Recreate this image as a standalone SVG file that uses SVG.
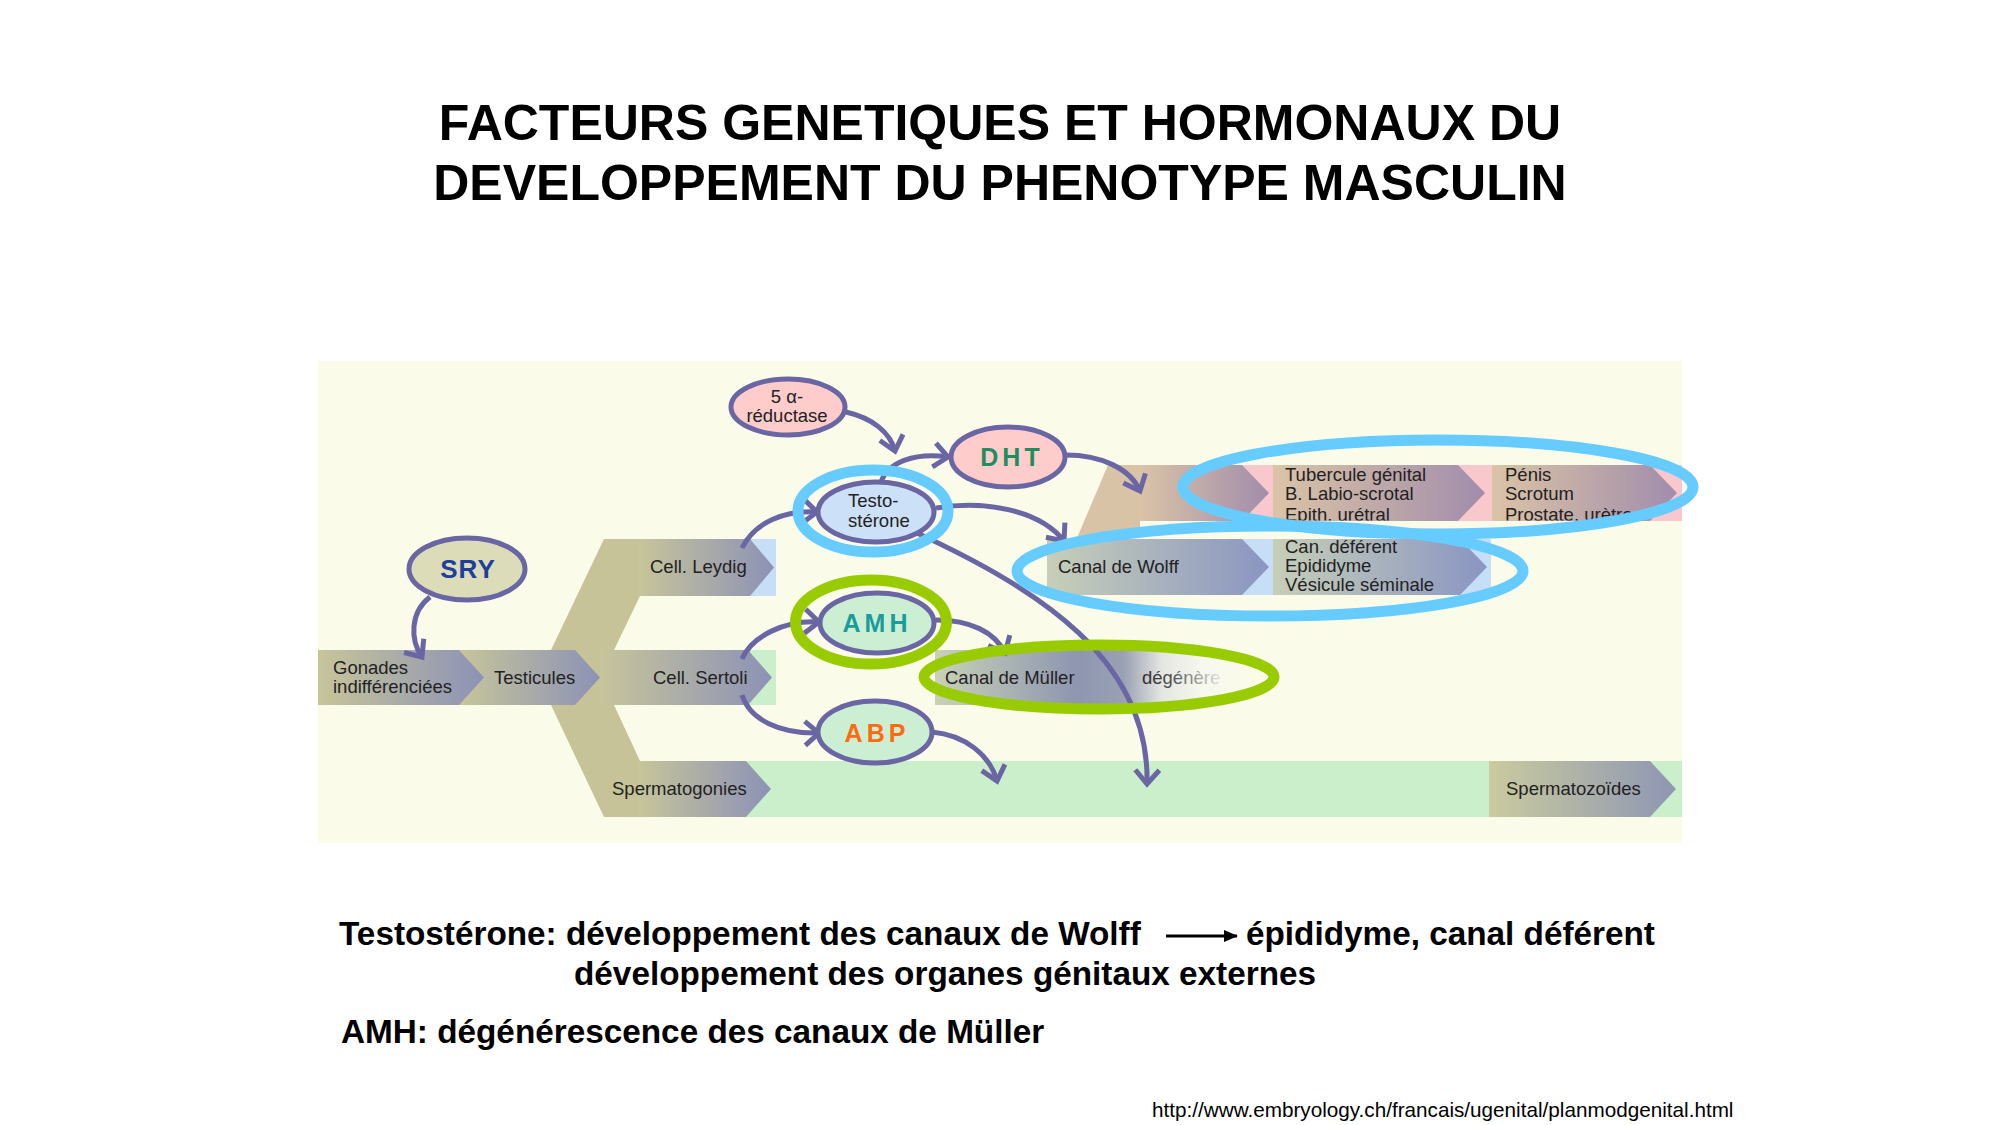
<svg xmlns="http://www.w3.org/2000/svg" width="2000" height="1125" viewBox="0 0 2000 1125">
<style>
text{font-family:"Liberation Sans",Arial,sans-serif;}
.lbl{font-size:18.5px;fill:#222;}
.ell{stroke:#6A66A4;stroke-width:5;}
.con{fill:none;stroke:#6A66A4;stroke-width:5;marker-end:url(#ah);}
.ring{fill:none;stroke-width:11;}
.blue{stroke:#66CCFF;}
.green{stroke:#99CC00;}
.hb{font-weight:bold;font-size:25px;letter-spacing:4px;text-anchor:middle;}
.title{font-size:50px;font-weight:bold;text-anchor:middle;fill:#000;}
.body{font-size:33.3px;font-weight:bold;fill:#000;}
.olive{fill:url(#gOlive);}
</style>
<defs>
<linearGradient id="gOlive" x1="0" y1="0" x2="1" y2="0"><stop offset="0" stop-color="#C7C59A"/><stop offset="1" stop-color="#8C92B6"/></linearGradient>
<linearGradient id="gTan" x1="0" y1="0" x2="1" y2="0"><stop offset="0" stop-color="#DBC4A6"/><stop offset="1" stop-color="#A18DAC"/></linearGradient>
<linearGradient id="gWolff" x1="0" y1="0" x2="1" y2="0"><stop offset="0" stop-color="#C7CFB8"/><stop offset="1" stop-color="#8A95C2"/></linearGradient>
<linearGradient id="gSpz" x1="0" y1="0" x2="1" y2="0"><stop offset="0" stop-color="#CACB9E"/><stop offset="1" stop-color="#8E96B3"/></linearGradient>
<linearGradient id="gMul" gradientUnits="userSpaceOnUse" x1="935" y1="0" x2="1250" y2="0"><stop offset="0" stop-color="#C8D2B6"/><stop offset="0.45" stop-color="#8E96B0"/><stop offset="0.6" stop-color="#9AA1B3"/><stop offset="0.72" stop-color="#E4E6E2"/><stop offset="0.85" stop-color="#F7F8EE"/><stop offset="1" stop-color="#FBFBEA"/></linearGradient>
<linearGradient id="gDeg" x1="0" y1="0" x2="1" y2="0"><stop offset="0" stop-color="#2A2A2A"/><stop offset="0.4" stop-color="#555"/><stop offset="1" stop-color="#E2E2E2"/></linearGradient>
<marker id="ah" viewBox="0 0 24 30" refX="18" refY="15" markerWidth="24" markerHeight="30" markerUnits="userSpaceOnUse" orient="auto"><path d="M4,3 L18,15 L4,27" fill="none" stroke="#6A66A4" stroke-width="5"/></marker>
<marker id="bk" viewBox="0 0 14 12" refX="13" refY="6" markerWidth="14" markerHeight="12" markerUnits="userSpaceOnUse" orient="auto"><path d="M0,0 L14,6 L0,12 Z" fill="#000"/></marker>
<clipPath id="extclip"><rect x="1100" y="465" width="590" height="55.5"/></clipPath>
</defs>

<rect width="2000" height="1125" fill="#FFFFFF"/>

<g id="title">
<text class="title" x="1000" y="140">FACTEURS GENETIQUES ET HORMONAUX DU</text>
<text class="title" x="1000" y="200">DEVELOPPEMENT DU PHENOTYPE MASCULIN</text>
</g>

<rect id="panel" x="318" y="361" width="1364" height="482" fill="#FBFBEA"/>

<g id="row-backgrounds">
<rect x="640" y="539" width="136" height="57" fill="#C6DEF6"/>
<rect x="640" y="650" width="136" height="55" fill="#CBEFCB"/>
<rect x="640" y="761" width="1042" height="56" fill="#CBEFCB"/>
<rect x="1047" y="539" width="444" height="56" fill="#C6DEF6"/>
<rect x="1108" y="465" width="574" height="56" fill="#F9C8CC"/>
</g>

<g id="fork"><polygon fill="#C6C398" points="551,650 604,539 640,539 640,596 614,650 614,705 640,761 640,817 604,817 551,705"/></g>
<g id="node-sertoli"><polygon class="olive" points="600,650 748,650 772,677.5 748,705 600,705"/><text class="lbl" x="653" y="684">Cell. Sertoli</text></g>
<g id="node-testicules"><polygon class="olive" points="459,650 575,650 600,677.5 575,705 459,705"/><text class="lbl" x="494" y="684">Testicules</text></g>
<g id="node-gonades"><polygon class="olive" points="318,650 459,650 484,677.5 459,705 318,705"/><text class="lbl" x="333" y="674">Gonades</text><text class="lbl" x="333" y="693">indifférenciées</text></g>
<g id="node-leydig"><polygon class="olive" points="638,539 750,539 774,567.5 750,596 638,596"/><text class="lbl" x="650" y="573">Cell. Leydig</text></g>
<g id="node-spermatogonies"><polygon class="olive" points="638,761 746,761 771,789 746,817 638,817"/><text class="lbl" x="612" y="795">Spermatogonies</text></g>
<g id="node-spermatozoides"><polygon fill="url(#gSpz)" points="1489,761 1650,761 1676,789 1650,817 1489,817"/><text class="lbl" x="1506" y="795">Spermatozoïdes</text></g>

<g id="node-muller"><rect x="935" y="650" width="315" height="55" fill="url(#gMul)"/><text class="lbl" x="945" y="684">Canal de Müller</text><text class="lbl" x="1142" y="684" style="fill:url(#gDeg)">dégénère</text></g>

<g id="node-wolff"><polygon fill="url(#gWolff)" points="1047,539 1242,539 1269,567 1242,595 1047,595"/><text class="lbl" x="1058" y="573">Canal de Wolff</text></g>
<g id="node-wolff-derives"><polygon fill="url(#gWolff)" points="1273,539 1460,539 1487,567 1460,595 1273,595"/><text class="lbl" x="1285" y="553">Can. déférent</text><text class="lbl" x="1285" y="572">Epididyme</text><text class="lbl" x="1285" y="591">Vésicule séminale</text></g>

<g id="fork-ext"><polygon fill="#D8C3A6" points="1077,538 1108,465 1140,465 1140,538"/></g>
<g id="node-ext1"><polygon fill="url(#gTan)" points="1138,465 1242,465 1269,493 1242,521 1138,521"/></g>
<g id="node-ext2"><polygon fill="url(#gTan)" points="1273,465 1458,465 1485,493 1458,521 1273,521"/><g clip-path="url(#extclip)"><text class="lbl" x="1285" y="481">Tubercule génital</text><text class="lbl" x="1285" y="500">B. Labio-scrotal</text><text class="lbl" x="1285" y="521">Epith. urétral</text></g></g>
<g id="node-ext3"><polygon fill="url(#gTan)" points="1492,465 1650,465 1677,493 1650,521 1492,521"/><g clip-path="url(#extclip)"><text class="lbl" x="1505" y="481">Pénis</text><text class="lbl" x="1505" y="500">Scrotum</text><text class="lbl" x="1505" y="521">Prostate, urètre</text></g></g>

<g id="connectors">
<path class="con" d="M430,597 C410,612 410,640 422,657"/>
<path class="con" d="M846,412 C872,418 890,432 895,451"/>
<path class="con" d="M881,482 C888,462 915,452 948,457"/>
<path class="con" d="M1066,455 C1100,455 1130,468 1140,491"/>
<path class="con" d="M936,508 C985,500 1040,510 1064,541"/>
<path class="con" d="M917,533 C1040,590 1150,660 1147,784"/>
<path class="con" d="M742,548 C755,522 785,510 817,512"/>
<path class="con" d="M742,659 C752,636 785,620 819,622"/>
<path class="con" d="M742,695 C750,720 780,734 819,733"/>
<path class="con" d="M936,620 C970,620 995,632 1005,653"/>
<path class="con" d="M932,732 C965,735 990,755 997,781"/>
</g>

<g id="node-sry"><ellipse class="ell" cx="467" cy="569" rx="58" ry="31" fill="#DCDCB8"/><text x="468" y="578" text-anchor="middle" font-size="26" font-weight="bold" fill="#1F3F9F" letter-spacing="1">SRY</text></g>
<g id="node-5ar"><ellipse class="ell" cx="788" cy="407" rx="57" ry="28" fill="#FFCCCC"/><text class="lbl" x="787" y="403" text-anchor="middle">5 α-</text><text class="lbl" x="787" y="422" text-anchor="middle">réductase</text></g>
<g id="node-dht"><ellipse class="ell" cx="1008" cy="457" rx="57" ry="30" fill="#FFCCCC"/><text class="hb" x="1012" y="466" fill="#1E8E5E">DHT</text></g>
<g id="node-testosterone"><ellipse class="ell" cx="876" cy="512" rx="58" ry="30" fill="#CCE0F8"/><text class="lbl" x="848" y="507">Testo-</text><text class="lbl" x="848" y="527">stérone</text></g>
<g id="node-amh"><ellipse class="ell" cx="877" cy="623" rx="57" ry="30" fill="#CCEFD4"/><text class="hb" x="877" y="632" fill="#199C9C">AMH</text></g>
<g id="node-abp"><ellipse class="ell" cx="875" cy="732" rx="57" ry="31" fill="#CCEFD4"/><text class="hb" x="877" y="742" fill="#FF6A10">ABP</text></g>

<g id="highlights">
<ellipse class="ring blue" cx="873" cy="511" rx="75" ry="41" stroke-width="10"/>
<ellipse class="ring green" cx="871" cy="622" rx="75.5" ry="42"/>
<ellipse class="ring green" cx="1099" cy="677" rx="175" ry="32"/>
<ellipse class="ring blue" cx="1270" cy="571" rx="253" ry="45"/>
<ellipse class="ring blue" cx="1438" cy="487" rx="255" ry="47"/>
</g>

<g id="notes">
<text class="body" x="339" y="945">Testostérone: développement des canaux de Wolff</text>
<line x1="1166" y1="936" x2="1237" y2="936" stroke="#000" stroke-width="3" marker-end="url(#bk)"/>
<text class="body" x="1246" y="945">épididyme, canal déférent</text>
<text class="body" x="574" y="985">développement des organes génitaux externes</text>
<text class="body" x="341" y="1043">AMH: dégénérescence des canaux de Müller</text>
<text x="1152" y="1117" font-size="20.7" fill="#000">http://www.embryology.ch/francais/ugenital/planmodgenital.html</text>
</g>
</svg>
